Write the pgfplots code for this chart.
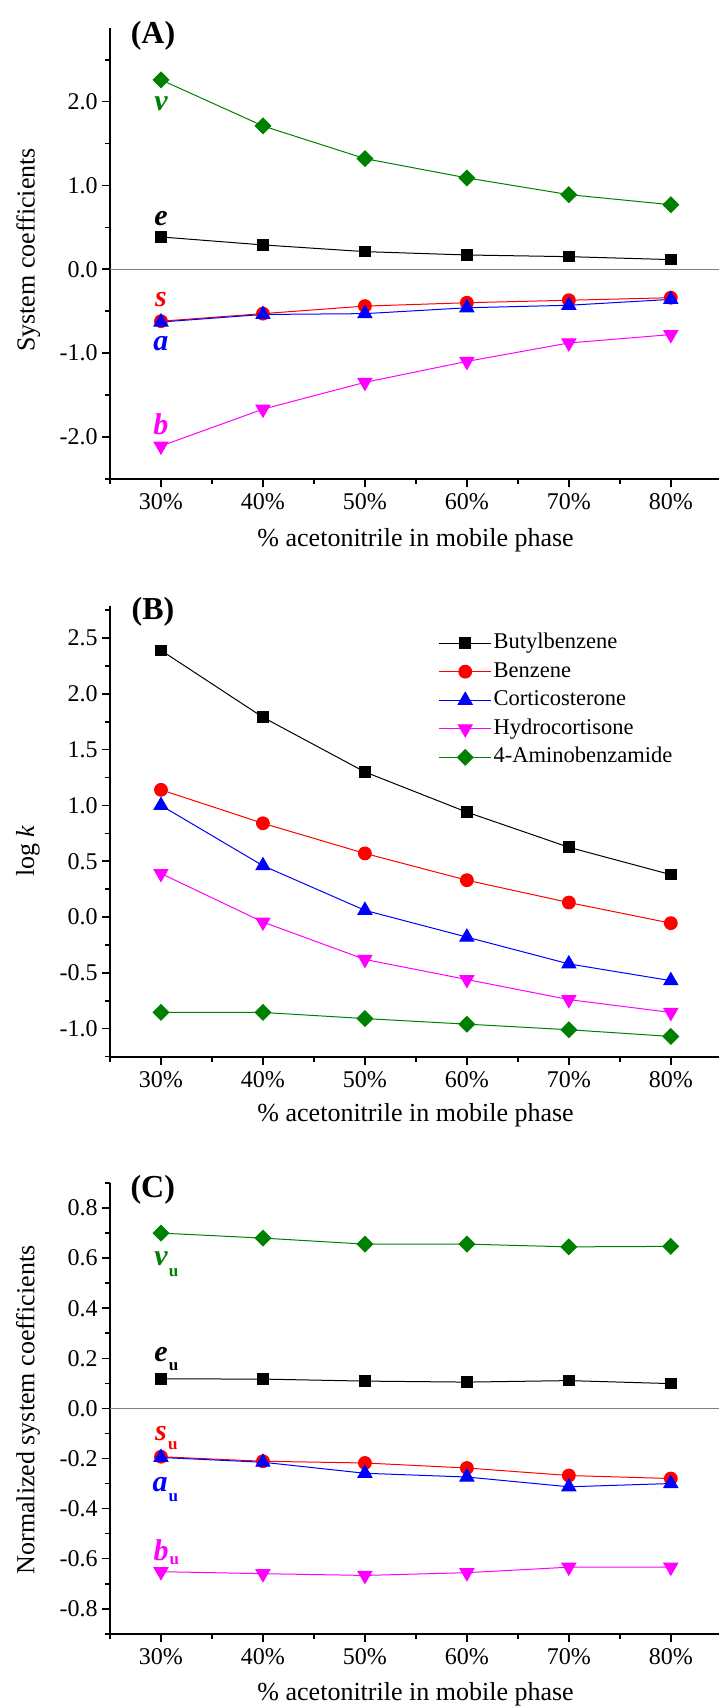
\documentclass[border=0pt]{standalone}
\usepackage{pgfplots}
\pgfplotsset{compat=1.18}
\usepackage{fontspec}
\setmainfont{Liberation Serif}
\definecolor{cgreen}{RGB}{0,128,0}
\definecolor{cred}{RGB}{255,0,0}
\definecolor{cblue}{RGB}{0,0,255}
\definecolor{cmag}{RGB}{255,0,255}
\definecolor{zgray}{RGB}{128,128,128}

\newcommand{\subu}[1]{\rlap{\hspace{0.6pt}\raisebox{#1}{\upshape\bfseries\fontsize{8.5}{9}\selectfont u}}}

\tikzset{
  ann/.style={font=\fontsize{15}{17}\selectfont\bfseries\itshape},
  sq/.style={black, line width=0.5pt, mark=square*, mark size=2.65pt, mark options={fill=black}},
  ci/.style={cred, line width=0.5pt, mark=*, mark size=3.2pt, mark options={fill=cred}},
  tu/.style={cblue, line width=0.5pt, mark=triangle*, mark size=4pt, mark options={fill=cblue}},
  td/.style={cmag, line width=0.5pt, mark=triangle*, mark size=4pt, mark options={fill=cmag, rotate=180}},
  di/.style={cgreen, line width=0.5pt, mark=diamond*, mark size=3.9pt, mark options={fill=cgreen, xscale=1.333}},
}
\pgfplotsset{
  panel/.style={
    scale only axis,
    width=305.9pt, height=225.4pt,
    xmin=25, xmax=85,
    axis x line*=bottom, axis y line*=left,
    axis line style={line width=1pt,-},
    tick align=outside,
    xtick={30,40,50,60,70,80},
    xticklabels={30\%,40\%,50\%,60\%,70\%,80\%},
    minor xtick={25,35,45,55,65,75,85},
    major tick length=4pt, minor tick length=2.5pt,
    every tick/.style={line width=0.8pt, black},
    tick label style={font=\fontsize{12}{14}\selectfont},
    yticklabel style={inner xsep=2pt},
    /pgf/number format/assume math mode=true,
    clip=false,
  },
}

\begin{document}
\begin{tikzpicture}
\path[use as bounding box] (0pt,0pt) rectangle (359pt,-854pt);

% ---------------- (A) ----------------
\begin{axis}[panel, at={(55pt,-13.95pt)}, anchor=north west,
  ymin=-2.5, ymax=2.88,
  ytick={-2,-1,0,1,2}, yticklabels={-2.0,-1.0,0.0,1.0,2.0},
  minor ytick={-2.5,-1.5,-0.5,0.5,1.5,2.5}]
\addplot[zgray, line width=0.5pt] coordinates {(25,0) (85,0)};
\addplot[di] coordinates {(30,2.26) (40,1.71) (50,1.32) (60,1.09) (70,0.89) (80,0.77)};
\addplot[sq] coordinates {(30,0.385) (40,0.29) (50,0.21) (60,0.17) (70,0.15) (80,0.115)};
\addplot[ci] coordinates {(30,-0.62) (40,-0.53) (50,-0.44) (60,-0.40) (70,-0.37) (80,-0.34)};
\addplot[tu] coordinates {(30,-0.63) (40,-0.54) (50,-0.53) (60,-0.46) (70,-0.43) (80,-0.36)};
\addplot[td] coordinates {(30,-2.11) (40,-1.67) (50,-1.35) (60,-1.10) (70,-0.88) (80,-0.78)};
\node[ann, cgreen] at (axis cs:30,1.98) {v};
\node[ann, black] at (axis cs:30,0.61) {e};
\node[ann, cred] at (axis cs:30,-0.36) {s};
\node[ann, cblue] at (axis cs:30,-0.89) {a};
\node[ann, cmag] at (axis cs:30,-1.85) {b};
\end{axis}

% ---------------- (B) ----------------
\begin{axis}[panel, at={(55pt,-302.85pt)}, anchor=north west,
  ymin=-1.25, ymax=2.79,
  ytick={-1,-0.5,0,0.5,1,1.5,2,2.5}, yticklabels={-1.0,-0.5,0.0,0.5,1.0,1.5,2.0,2.5},
  minor ytick={-1.25,-0.75,-0.25,0.25,0.75,1.25,1.75,2.25,2.75},
  legend image code/.code={\draw[mark repeat=2,mark phase=2,#1] plot coordinates {(0pt,0pt) (12.9pt,0pt) (25.8pt,0pt)};},
  legend style={at={(0.537,0.948)}, anchor=north west, draw=none, fill=none, inner sep=0pt,
    font=\fontsize{11.25}{13}\selectfont, row sep=0.8pt,
    nodes={inner sep=1pt, text height=8.5pt, text depth=3pt}},
  legend cell align=left]
\addplot[sq] coordinates {(30,2.39) (40,1.79) (50,1.30) (60,0.94) (70,0.625) (80,0.38)};
\addlegendentry{Butylbenzene}
\addplot[ci] coordinates {(30,1.14) (40,0.84) (50,0.57) (60,0.33) (70,0.13) (80,-0.055)};
\addlegendentry{Benzene}
\addplot[tu] coordinates {(30,1.00) (40,0.46) (50,0.06) (60,-0.18) (70,-0.42) (80,-0.57)};
\addlegendentry{Corticosterone}
\addplot[td] coordinates {(30,0.39) (40,-0.045) (50,-0.38) (60,-0.56) (70,-0.74) (80,-0.855)};
\addlegendentry{Hydrocortisone}
\addplot[di] coordinates {(30,-0.855) (40,-0.855) (50,-0.91) (60,-0.96) (70,-1.01) (80,-1.07)};
\addlegendentry{4-Aminobenzamide}
\end{axis}

% ---------------- (C) ----------------
\begin{axis}[panel, at={(55pt,-591.5pt)}, anchor=north west,
  ymin=-0.9, ymax=0.9,
  ytick={-0.8,-0.6,-0.4,-0.2,0,0.2,0.4,0.6,0.8},
  yticklabels={-0.8,-0.6,-0.4,-0.2,0.0,0.2,0.4,0.6,0.8},
  minor ytick={-0.9,-0.7,-0.5,-0.3,-0.1,0.1,0.3,0.5,0.7,0.9}]
\addplot[zgray, line width=0.5pt] coordinates {(25,0) (85,0)};
\addplot[di] coordinates {(30,0.70) (40,0.68) (50,0.656) (60,0.656) (70,0.645) (80,0.647)};
\addplot[sq] coordinates {(30,0.118) (40,0.117) (50,0.109) (60,0.105) (70,0.111) (80,0.099)};
\addplot[ci] coordinates {(30,-0.193) (40,-0.211) (50,-0.218) (60,-0.238) (70,-0.268) (80,-0.28)};
\addplot[tu] coordinates {(30,-0.196) (40,-0.215) (50,-0.259) (60,-0.274) (70,-0.313) (80,-0.30)};
\addplot[td] coordinates {(30,-0.652) (40,-0.66) (50,-0.667) (60,-0.656) (70,-0.634) (80,-0.634)};
\end{axis}

% labels (absolute placement)
\node[font=\fontsize{16}{18}\selectfont\bfseries] at (76.5pt,-17.85pt) {(A)};
\node[font=\fontsize{16}{18}\selectfont\bfseries] at (76.5pt,-305.9pt) {(B)};
\node[font=\fontsize{16}{18}\selectfont\bfseries] at (76.4pt,-594.7pt) {(C)};

\node[rotate=90, font=\fontsize{13}{15}\selectfont] at (14.2pt,-125pt) {System coefficients};
\node[rotate=90, font=\fontsize{13}{15}\selectfont] at (14pt,-425.5pt) {log \textit{k}};
\node[rotate=90, font=\fontsize{13}{15}\selectfont] at (14pt,-705pt) {Normalized system coefficients};

\node[font=\fontsize{13}{15}\selectfont] at (207.8pt,-270pt) {\% acetonitrile in mobile phase};
\node[font=\fontsize{13}{15}\selectfont] at (207.8pt,-557.5pt) {\% acetonitrile in mobile phase};
\node[font=\fontsize{13}{15}\selectfont] at (207.8pt,-846.9pt) {\% acetonitrile in mobile phase};

% subscripted labels of (C)
\node[ann, cgreen, anchor=base] at (80.5pt,-632.5pt) {v\subu{-5.5pt}};
\node[ann, black, anchor=base] at (80.5pt,-680.85pt) {e\subu{-4.5pt}};
\node[ann, cred, anchor=base] at (80.5pt,-720pt) {s\subu{-4.5pt}};
\node[ann, cblue, anchor=base] at (80pt,-745.85pt) {a\subu{-5pt}};
\node[ann, cmag, anchor=base] at (80.5pt,-780pt) {b\subu{-2pt}};
\end{tikzpicture}
\end{document}
